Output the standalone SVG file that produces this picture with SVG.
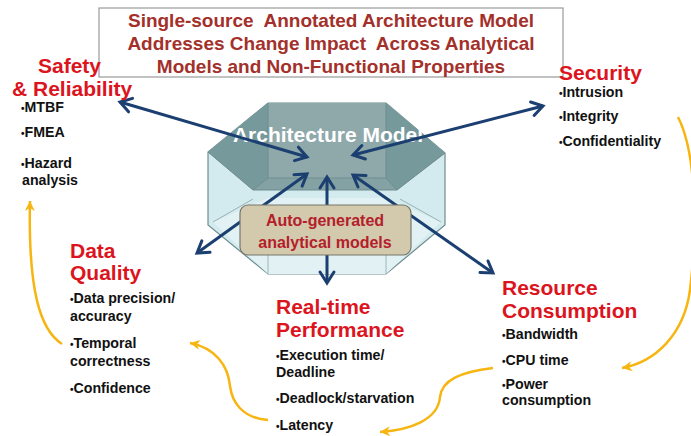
<svg xmlns="http://www.w3.org/2000/svg" width="691" height="436" viewBox="0 0 691 436">
<style>
text{font-family:"Liberation Sans",Arial,sans-serif;font-weight:bold}
.title{font-size:19px;fill:#a3302a;text-anchor:middle}
.head{font-size:21px;fill:#dc1420}
.item{font-size:14.2px;fill:#111}
.dot{font-size:10px}
.blue{fill:none;stroke:#1b3f70;stroke-width:3;marker-start:url(#chev);marker-end:url(#chev)}
.yel{fill:none;stroke:#f7b512;stroke-width:2.5;marker-end:url(#yhead)}
.edge{fill:none;stroke:#6f8d8e;stroke-width:1}
</style>
<defs>
<marker id="chev" viewBox="-14 -9 16 18" refX="0" refY="0" markerWidth="16" markerHeight="18" markerUnits="userSpaceOnUse" orient="auto-start-reverse" overflow="visible">
<path d="M-11,-7 L0,0 L-11,7" fill="none" stroke="#1b3f70" stroke-width="3" stroke-linecap="round" stroke-linejoin="miter"/>
</marker>
<marker id="yhead" viewBox="-12 -6 14 12" refX="0" refY="0" markerWidth="14" markerHeight="12" markerUnits="userSpaceOnUse" orient="auto" overflow="visible">
<path d="M0,0 L-10,-5 L-7,0 L-10,5 Z" fill="#f7b512"/>
</marker>
</defs>
<rect width="691" height="436" fill="#ffffff"/>

<g id="title">
<rect x="99" y="8" width="464" height="69" fill="#ffffff" stroke="#9a9a9a" stroke-width="1.2"/>
<text class="title" x="331" y="27" xml:space="preserve">Single-source  Annotated Architecture Model</text>
<text class="title" x="331" y="50" xml:space="preserve">Addresses Change Impact  Across Analytical</text>
<text class="title" x="331" y="73">Models and Non-Functional Properties</text>
</g>

<g id="architecture-model">
<polygon points="268,103 386,103 445,153 445,225 386,274 268,274 208,225 208,152" fill="#d3eaee" stroke="#6f8d8e" stroke-width="1.2"/>
<polygon points="268,198 386,198 441,222 386,274 268,274 213,222" fill="#e2f2f4"/>
<polygon points="268,103 386,103 445,153 397,190 253,190 208,152" fill="#8fa9ab"/>
<polygon points="208,152 268,103 268,178 253,190" fill="#76999b"/>
<polygon points="386,103 445,153 397,190 386,178" fill="#76999b"/>
<polygon points="268,178 386,178 397,190 253,190" fill="#84a2a3"/>
<path class="edge" d="M268,103 V178 H386 V103 M268,178 L253,190 M386,178 L397,190 M208,152 L253,190 H397 L445,153"/>
<path class="edge" d="M213,222 L253,199 M441,222 L400,199 M268,250 V274 M386,250 V274" stroke-opacity="0.6"/>
<text x="328" y="142" font-size="21" fill="#ffffff" text-anchor="middle">Architecture Model</text>
</g>

<g id="connectors">
<path class="blue" d="M120,102 L307,157"/>
<path class="blue" d="M543,106 L353,155"/>
<path class="blue" d="M197,253 L307,174"/>
<path class="blue" d="M327,283 L327,177"/>
<path class="blue" d="M493,273 L353,175"/>
<path class="yel" d="M62,344 C40,330 28,290 30,201"/>
<path class="yel" d="M268,420 C242,418 232,402 230,386 C228,365 215,348 190,343"/>
<path class="yel" d="M493,368 C460,372 442,380 440,397 C438,420 410,430 380,432"/>
<path class="yel" d="M678,117 C700,160 695,250 690,290 C684,335 655,362 622,368"/>
</g>

<g id="auto-generated">
<rect x="240" y="205" width="171" height="50" rx="8" ry="8" fill="#d3c9ad" stroke="#77776a" stroke-width="1.2"/>
<text x="325" y="226" font-size="16" fill="#b3202a" text-anchor="middle">Auto-generated</text>
<text x="325" y="248" font-size="16" fill="#b3202a" text-anchor="middle">analytical models</text>
</g>

<g id="safety">
<text class="head" x="38" y="73">Safety</text>
<text class="head" x="12" y="96">&amp; Reliability</text>
<text class="item" x="21" y="112"><tspan class="dot">•</tspan>MTBF</text>
<text class="item" x="21" y="137"><tspan class="dot">•</tspan>FMEA</text>
<text class="item" x="21" y="168"><tspan class="dot">•</tspan>Hazard</text>
<text class="item" x="22" y="185">analysis</text>
</g>

<g id="security">
<text class="head" x="559" y="80">Security</text>
<text class="item" x="559" y="97"><tspan class="dot">•</tspan>Intrusion</text>
<text class="item" x="559" y="121"><tspan class="dot">•</tspan>Integrity</text>
<text class="item" x="559" y="146"><tspan class="dot">•</tspan>Confidentiality</text>
</g>

<g id="data-quality">
<text class="head" x="70" y="258">Data</text>
<text class="head" x="70" y="280">Quality</text>
<text class="item" x="70" y="303"><tspan class="dot">•</tspan>Data precision/</text>
<text class="item" x="70" y="321">accuracy</text>
<text class="item" x="70" y="348"><tspan class="dot">•</tspan>Temporal</text>
<text class="item" x="70" y="366">correctness</text>
<text class="item" x="70" y="393"><tspan class="dot">•</tspan>Confidence</text>
</g>

<g id="real-time">
<text class="head" x="276" y="314">Real-time</text>
<text class="head" x="276" y="337">Performance</text>
<text class="item" x="276" y="360"><tspan class="dot">•</tspan>Execution time/</text>
<text class="item" x="276" y="377">Deadline</text>
<text class="item" x="276" y="403"><tspan class="dot">•</tspan>Deadlock/starvation</text>
<text class="item" x="276" y="430"><tspan class="dot">•</tspan>Latency</text>
</g>

<g id="resource">
<text class="head" x="502" y="295">Resource</text>
<text class="head" x="502" y="318">Consumption</text>
<text class="item" x="502" y="339"><tspan class="dot">•</tspan>Bandwidth</text>
<text class="item" x="502" y="365"><tspan class="dot">•</tspan>CPU time</text>
<text class="item" x="502" y="389"><tspan class="dot">•</tspan>Power</text>
<text class="item" x="502" y="405">consumption</text>
</g>
</svg>
